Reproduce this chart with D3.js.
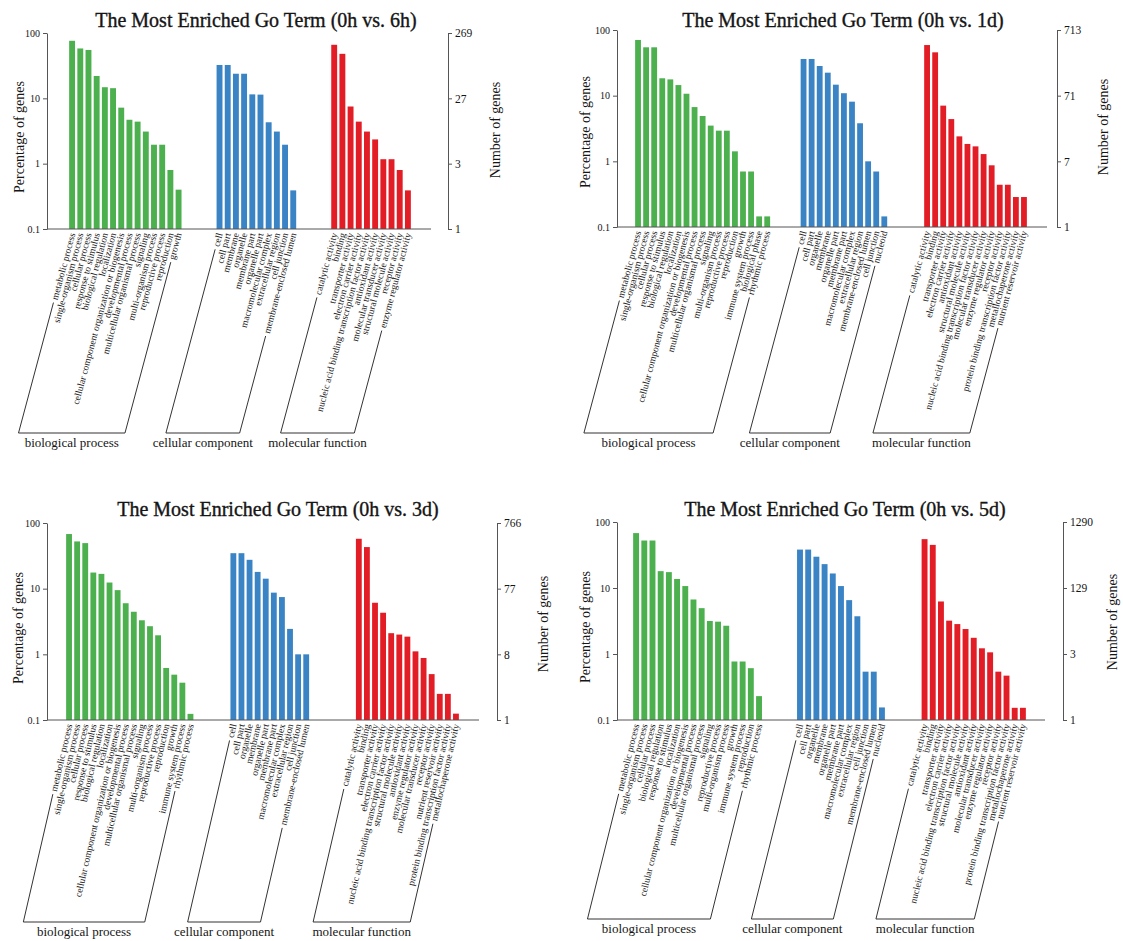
<!DOCTYPE html>
<html>
<head>
<meta charset="utf-8">
<script src="https://cdn.jsdelivr.net/npm/d3@7"></script>
<style>
  body { margin: 0; background: #fff; }
  svg { display: block; }
  text { font-family: "Liberation Serif", "Times New Roman", serif; fill: #151515; }
</style>
</head>
<body>
<svg id="chart" width="1123" height="941"></svg>
<script>
const groupNames = ["biological process", "cellular component", "molecular function"];
const groupColors = ["#4cb04f", "#3a84c5", "#e31d25"];
const pctTicks = [100, 10, 1, 0.1];
const pctTickLabels = ["100", "10", "1", "0.1"];

// 0h vs. 6h
const bp6h = ["metabolic process", "single-organism process", "cellular process", "response to stimulus",
  "biological regulation", "localization", "cellular component organization or biogenesis",
  "developmental process", "multicellular organismal process", "signaling", "multi-organism process",
  "reproductive process", "reproduction", "growth"];
const bp6hPct = [76, 58, 55, 22, 14.8, 14.3, 7.2, 4.7, 4.4, 3.1, 1.95, 1.95, 0.8, 0.4];
const cc6h = ["cell", "cell part", "membrane", "organelle", "membrane part", "organelle part",
  "macromolecular complex", "extracellular region", "cell junction", "membrane-enclosed lumen"];
const cc6hPct = [32.4, 32.4, 23.8, 23.8, 11.5, 11.4, 4.3, 3.1, 1.95, 0.39];
const mf6h = ["catalytic activity", "binding", "transporter activity", "electron carrier activity",
  "nucleic acid binding transcription factor activity", "antioxidant activity",
  "molecular transducer activity", "structural molecule activity", "receptor activity",
  "enzyme regulator activity"];
const mf6hPct = [66, 48, 7.5, 4.4, 3.1, 2.35, 1.17, 1.17, 0.8, 0.39];
const genes6h = ["269", "27", "3", "1"];

// 0h vs. 1d
const bp1d = ["metabolic process", "single-organism process", "cellular process", "response to stimulus",
  "biological regulation", "localization", "cellular component organization or biogenesis",
  "developmental process", "multicellular organismal process", "signaling", "multi-organism process",
  "reproductive process", "reproduction", "growth", "immune system process", "biological phase",
  "rhythmic process"];
const bp1dPct = [70.5, 54.5, 54.5, 18.4, 17.7, 14.5, 10.7, 6.7, 4.9, 3.5, 2.93, 2.93, 1.42, 0.7, 0.7, 0.145, 0.145];
const cc1d = ["cell", "cell part", "organelle", "membrane", "organelle part", "membrane part",
  "macromolecular complex", "extracellular region", "membrane-enclosed lumen", "cell junction", "nucleoid"];
const cc1dPct = [36.2, 36.2, 28.3, 22.4, 14.7, 10.9, 8.1, 3.8, 1.0, 0.7, 0.145];
const mf1d = ["catalytic activity", "binding", "transporter activity", "electron carrier activity",
  "antioxidant activity", "structural molecule activity", "nucleic acid binding transcription factor activity",
  "molecular transducer activity", "enzyme regulator activity", "receptor activity",
  "protein binding transcription factor activity", "metallochaperone activity", "nutrient reservoir activity"];
const mf1dPct = [59, 45.7, 7.05, 4.4, 2.4, 1.84, 1.69, 1.29, 0.87, 0.44, 0.44, 0.286, 0.286];
const genes1d = ["713", "71", "7", "1"];

// 0h vs. 3d
const bp3d = ["metabolic process", "single-organism process", "cellular process", "response to stimulus",
  "biological regulation", "localization", "cellular component organization or biogenesis",
  "developmental process", "multicellular organismal process", "signaling", "multi-organism process",
  "reproductive process", "reproduction", "growth", "immune system process", "rhythmic process"];
const bp3dPct = [67.9, 52.4, 49.4, 17.6, 16.8, 12.4, 9.5, 6.0, 4.45, 3.3, 2.68, 1.95, 0.62, 0.49, 0.37, 0.124];
const cc3d = ["cell", "cell part", "organelle", "membrane", "organelle part", "membrane part",
  "macromolecular complex", "extracellular region", "cell junction", "membrane-enclosed lumen"];
const cc3dPct = [34.7, 34.7, 27.5, 18, 14.2, 8.7, 7.45, 2.44, 1.0, 1.0];
const mf3d = ["catalytic activity", "binding", "transporter activity", "electron carrier activity",
  "nucleic acid binding transcription factor activity", "structural molecule activity", "antioxidant activity",
  "enzyme regulator activity", "molecular transducer activity", "receptor activity",
  "nutrient reservoir activity", "protein binding transcription factor activity", "metallochaperone activity"];
const mf3dPct = [57.5, 43, 6.1, 4.3, 2.1, 2.0, 1.86, 1.11, 0.88, 0.5, 0.25, 0.25, 0.125];
const genes3d = ["766", "77", "8", "1"];

// 0h vs. 5d
const bp5d = ["metabolic process", "single-organism process", "cellular process", "biological regulation",
  "response to stimulus", "localization", "cellular component organization or biogenesis",
  "developmental process", "multicellular organismal process", "signaling", "reproductive process",
  "multi-organism process", "growth", "immune system process", "reproduction", "rhythmic process"];
const bp5dPct = [67.9, 52.4, 52.4, 18, 17.4, 13.7, 10.7, 6.7, 4.95, 3.16, 3.09, 2.68, 0.77, 0.77, 0.61, 0.23];
const cc5d = ["cell", "cell part", "organelle", "membrane", "organelle part", "membrane part",
  "macromolecular complex", "extracellular region", "cell junction", "membrane-enclosed lumen", "nucleoid"];
const cc5dPct = [38.2, 38.2, 29.8, 23, 16.6, 10.7, 6.55, 3.73, 0.54, 0.54, 0.155];
const mf5d = ["catalytic activity", "binding", "transporter activity", "electron carrier activity",
  "nucleic acid binding transcription factor activity", "structural molecule activity", "antioxidant activity",
  "molecular transducer activity", "enzyme regulator activity", "receptor activity",
  "protein binding transcription factor activity", "metallochaperone activity", "nutrient reservoir activity"];
const mf5dPct = [55, 45, 6.25, 3.2, 2.84, 2.39, 1.76, 1.22, 1.06, 0.54, 0.47, 0.153, 0.153];
const genes5d = ["1290", "129", "3", "1"];

// layout of the four panels
const panels = [
  { title: "The Most Enriched Go Term (0h vs. 6h)", groups: [[bp6h, bp6hPct], [cc6h, cc6hPct], [mf6h, mf6hPct]], genes: genes6h,
    ax: 47, y100: 33, y01: 229, bx0: 68, bx1: 412, gaps: [4, 4], lineEnd: 431, rx: 448,
    tx: 256, ty: 27, px: 24, py: 137, nx: 500, ny: 130, brY: 433, angle: 75 },
  { title: "The Most Enriched Go Term (0h vs. 1d)", groups: [[bp1d, bp1dPct], [cc1d, cc1dPct], [mf1d, mf1dPct]], genes: genes1d,
    ax: 617, y100: 30, y01: 227, bx0: 634, bx1: 1028, gaps: [3.5, 4.3], lineEnd: 1047, rx: 1057,
    tx: 843, ty: 27, px: 590, py: 132, nx: 1108, ny: 127, brY: 433, angle: 75 },
  { title: "The Most Enriched Go Term (0h vs. 3d)", groups: [[bp3d, bp3dPct], [cc3d, cc3dPct], [mf3d, mf3dPct]], genes: genes3d,
    ax: 47, y100: 523, y01: 720, bx0: 65, bx1: 460, gaps: [4.3, 5.5], lineEnd: 479, rx: 497,
    tx: 278, ty: 516, px: 23, py: 628, nx: 548, ny: 624, brY: 922, angle: 77 },
  { title: "The Most Enriched Go Term (0h vs. 5d)", groups: [[bp5d, bp5dPct], [cc5d, cc5dPct], [mf5d, mf5dPct]], genes: genes5d,
    ax: 617, y100: 522, y01: 720, bx0: 632, bx1: 1027, gaps: [4, 4.2], lineEnd: 1045, rx: 1063,
    tx: 845, ty: 516, px: 590, py: 627, nx: 1117, ny: 622, brY: 919, angle: 76 }
];

const svg = d3.select("#chart");

panels.forEach(p => {
  const g = svg.append("g");

  // slot positions for bars, with gaps between the three groups
  const bars = [];
  let slot = 0;
  p.groups.forEach(([terms, pct], gi) => {
    terms.forEach((t, i) => bars.push({ term: t, value: pct[i], group: gi, slot: slot + i }));
    slot += terms.length + (gi < 2 ? p.gaps[gi] : 0);
  });
  const x = d3.scaleLinear().domain([0, slot]).range([p.bx0, p.bx1]);
  const y = d3.scaleLog().domain([0.1, 100]).range([p.y01, p.y100]);
  const bw = (x(1) - x(0)) * 0.72;

  g.append("text").attr("x", p.tx).attr("y", p.ty).attr("text-anchor", "middle")
    .attr("font-size", 20).attr("stroke", "#151515").attr("stroke-width", 0.35).text(p.title);

  g.selectAll("rect.bar").data(bars).join("rect")
    .attr("class", "bar")
    .attr("x", d => x(d.slot + 0.5) - bw / 2)
    .attr("width", bw)
    .attr("y", d => y(d.value))
    .attr("height", d => y(0.1) - y(d.value))
    .attr("fill", d => groupColors[d.group]);

  // left axis
  const la = g.append("g").attr("transform", `translate(${p.ax},0)`)
    .call(d3.axisLeft(y).tickValues(pctTicks).tickFormat((d, i) => pctTickLabels[i]).tickSize(4).tickSizeOuter(0));
  la.selectAll("text").attr("font-size", 10).attr("font-family", "Liberation Serif").attr("fill", "#333");
  la.selectAll("line,path").attr("stroke", "#555");

  // right axis
  const ra = g.append("g").attr("transform", `translate(${p.rx},0)`)
    .call(d3.axisRight(y).tickValues(pctTicks).tickFormat((d, i) => p.genes[i]).tickSize(4).tickSizeOuter(0));
  ra.selectAll("text").attr("font-size", 11.5).attr("font-family", "Liberation Serif").attr("fill", "#222");
  ra.selectAll("line,path").attr("stroke", "#555");

  // baseline
  g.append("line").attr("x1", p.ax).attr("x2", p.lineEnd).attr("y1", p.y01).attr("y2", p.y01)
    .attr("stroke", "#555");

  g.append("text").attr("transform", `translate(${p.px},${p.py}) rotate(-90)`)
    .attr("text-anchor", "middle").attr("font-size", 14).text("Percentage of genes");
  g.append("text").attr("transform", `translate(${p.nx},${p.ny}) rotate(-90)`)
    .attr("text-anchor", "middle").attr("font-size", 14).text("Number of genes");

  // term labels
  const a = p.angle * Math.PI / 180;
  const dir = [-Math.cos(a), Math.sin(a)];
  const y0 = p.y01 + 4;
  const labels = g.selectAll("text.term").data(bars).join("text")
    .attr("class", "term")
    .attr("transform", d => `translate(${x(d.slot + 0.5)},${y0}) rotate(${-p.angle})`)
    .attr("text-anchor", "end").attr("dy", "0.35em")
    .attr("font-size", 9.6).text(d => d.term);

  // brackets for each group
  const lens = labels.nodes().map(n => n.getComputedTextLength());
  const line = d3.line();
  p.groups.forEach((grp, gi) => {
    const idx = bars.map((b, i) => i).filter(i => bars[i].group === gi);
    const i0 = idx[0], i1 = idx[idx.length - 1];
    const t = (p.brY - y0) / dir[1];
    const pt = (i, s) => [x(bars[i].slot + 0.5) + s * dir[0], y0 + s * dir[1]];
    const pts = [pt(i0, lens[i0] + 3), pt(i0, t), pt(i1, t), pt(i1, lens[i1] + 3)];
    g.append("path").attr("d", line(pts)).attr("fill", "none").attr("stroke", "#333").attr("stroke-width", 1);
    g.append("text").attr("x", (pts[1][0] + pts[2][0]) / 2).attr("y", p.brY + 14)
      .attr("text-anchor", "middle").attr("font-size", 13).text(groupNames[gi]);
  });
});
</script>
</body>
</html>
